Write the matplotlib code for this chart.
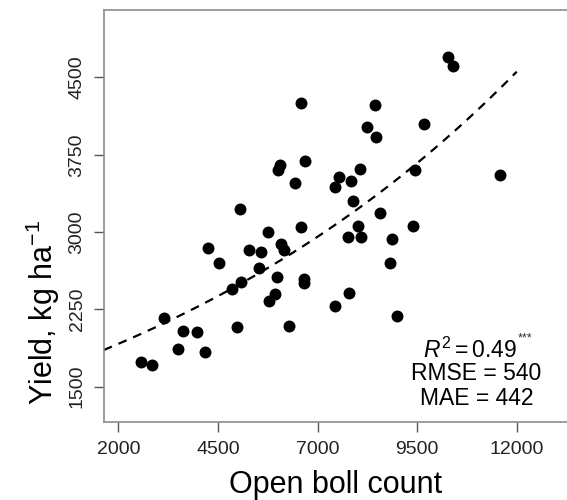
import matplotlib
matplotlib.use("Agg")
import matplotlib.pyplot as plt
import numpy as np

plt.rcParams['font.family'] = ['Liberation Sans', 'DejaVu Sans']
plt.rcParams['mathtext.fontset'] = 'custom'
plt.rcParams['mathtext.rm'] = 'Liberation Sans'
plt.rcParams['mathtext.it'] = 'Liberation Sans:italic'

# open boll count vs yield
boll_count = [6578, 6059, 6001, 6694, 6435, 5062, 10268, 10393, 8443, 8250,
              8468, 9681, 8067, 7532, 7432, 7848, 9440, 11581, 7891, 8561,
              4244, 4520, 5765, 5281, 5574, 6091, 6167, 6598, 5532, 5072,
              4846, 5983, 5941, 5790, 6654, 6661, 3147, 3632, 3975, 4979,
              6292, 3506, 4176, 2562, 2838, 8024, 7758, 8085, 8870, 9395,
              8827, 7783, 7432, 8986]
yield_kg = [4249, 3650, 3602, 3692, 3476, 3227, 4695, 4608, 4232, 4019,
            3925, 4045, 3612, 3534, 3437, 3492, 3602, 3553, 3301, 3182,
            2842, 2700, 3004, 2826, 2807, 2881, 2823, 3046, 2651, 2519,
            2445, 2567, 2402, 2331, 2542, 2503, 2169, 2043, 2034, 2076,
            2089, 1869, 1834, 1743, 1710, 3059, 2952, 2949, 2933, 3056,
            2700, 2412, 2283, 2189]

# fitted model: yield = a * exp(b * count)
fit_a = 1611
fit_b = 8.663e-5
fit_end = 12000

x_ticks = [2000, 4500, 7000, 9500, 12000]
y_ticks = [1500, 2250, 3000, 3750, 4500]
r2_text = r'$\mathit{R}^2 = 0.49$'
signif = '***'
stats_text = ['RMSE = 540', 'MAE = 442']

W, H = 567, 500
fig = plt.figure(figsize=(W / 100, H / 100), dpi=100)
left, right, top, bottom = 103.7, 570, 10, 421.7
ax = fig.add_axes([left / W, 1 - bottom / H, (right - left) / W, (bottom - top) / H])

xmin = 2000 - (118.3 - left) * 25.1
xmax = 2000 + (right - 118.3) * 25.1
ax.set_xlim(xmin, xmax)
ax.set_ylim(1161, 5154)

ax.plot(boll_count, yield_kg, 'o', color='black', markersize=8.6, markeredgewidth=0)

xs = np.linspace(xmin, fit_end, 200)
ax.plot(xs, fit_a * np.exp(fit_b * xs), color='black', lw=1.6, dashes=(4, 3.2))

for sp in ax.spines.values():
    sp.set_color('#8c8c8c')
    sp.set_linewidth(1.2)

ax.set_xticks(x_ticks)
ax.set_yticks(y_ticks)
ax.set_yticklabels([str(v) for v in y_ticks], rotation=90, va='center')
ax.tick_params(length=7, width=1.0, color='#555555', labelsize=14, labelcolor='#222222')
ax.tick_params(axis='x', pad=7)
ax.tick_params(axis='y', pad=6)

fig.text(336 / W, 1 - 493.3 / H, 'Open boll count', fontsize=22, ha='center', va='baseline')
fig.text(43.3 / W, 1 - 220 / H, r'Yield, kg ha$^{-1}$', fontsize=22, rotation=90,
         ha='right', va='center', rotation_mode='anchor')

fig.text(517 / W, 1 - 358.3 / H, r2_text, fontsize=16.5, ha='right', va='baseline')
fig.text(518 / W, 1 - 332 / H, signif, fontsize=9, ha='left', va='top', color='#333333')
for txt, base in zip(stats_text, [380, 405]):
    fig.text(476.5 / W, 1 - base / H, txt, fontsize=16.5, ha='center', va='baseline')

fig.savefig('out.png', dpi=100)
